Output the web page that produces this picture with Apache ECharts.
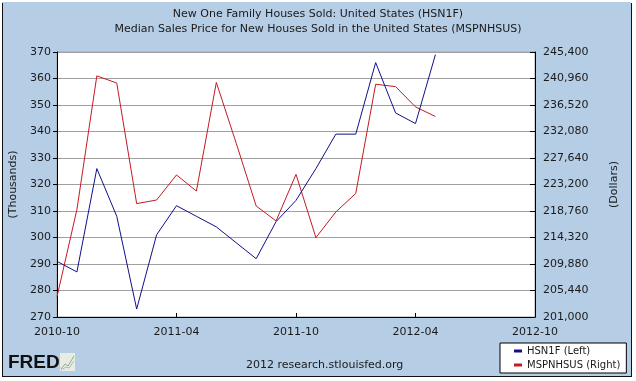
<!DOCTYPE html>
<html>
<head>
<meta charset="utf-8">
<script src="https://cdn.jsdelivr.net/npm/echarts@6/dist/echarts.min.js"></script>
<style>
html,body{margin:0;padding:0;background:#ffffff;}
#c{width:636px;height:381px;}
</style>
</head>
<body>
<div id="c"></div>
<script>
var months = ['2010-10','2010-11','2010-12','2011-01','2011-02','2011-03','2011-04','2011-05','2011-06','2011-07','2011-08','2011-09','2011-10','2011-11','2011-12','2012-01','2012-02','2012-03','2012-04','2012-05','2012-06','2012-07','2012-08','2012-09','2012-10'];
var hsn1f = [291, 287, 326, 308, 273, 301, 312, 308, 304, 298, 292, 306, 314, 326, 339, 339, 366, 347, 343, 369];
var mspnhsus = [204400, 219000, 241400, 240200, 220000, 220600, 224800, 222100, 240300, 230100, 219600, 217100, 224900, 214300, 218600, 221700, 240000, 239600, 236200, 234600];
var leftTicks = {min: 270, max: 370, interval: 10};
var rightTicks = {min: 201000, max: 245400, interval: 4440};

var chart = echarts.init(document.getElementById('c'), null, {renderer: 'canvas'});
var font = 'DejaVu Sans, Verdana, sans-serif';
var txt = '#1a1a1a';

function commas(v){ return String(Math.round(v)).replace(/\B(?=(\d{3})+(?!\d))/g, ','); }

chart.setOption({
  backgroundColor: '#ffffff',
  animation: false,
  title: {
    text: 'New One Family Houses Sold: United States (HSN1F)\nMedian Sales Price for New Houses Sold in the United States (MSPNHSUS)',
    left: 'center', top: 2,
    textStyle: {fontFamily: font, fontSize: 11, fontWeight: 'normal', color: txt, lineHeight: 15}
  },
  legend: {
    orient: 'vertical',
    left: 500, top: 343, width: 110,
    padding: [3, 6, 3, 14],
    itemGap: 4,
    itemWidth: 8, itemHeight: 3,
    icon: 'rect',
    backgroundColor: '#ffffff',
    borderColor: '#000000', borderWidth: 1,
    textStyle: {fontFamily: font, fontSize: 10, color: txt},
    data: [{name: 'HSN1F (Left)'}, {name: 'MSPNHSUS (Right)'}]
  },
  grid: {left: 57, right: 101, top: 52, bottom: 64, show: true, backgroundColor: '#ffffff', borderColor: '#a0a0a0', borderWidth: 1},
  xAxis: {
    type: 'category',
    data: months,
    boundaryGap: false,
    axisLine: {lineStyle: {color: '#000000', width: 1}},
    axisTick: {inside: true, length: 4, interval: 5, lineStyle: {color: '#000000'}},
    axisLabel: {interval: 5, margin: 10, fontFamily: font, fontSize: 11, color: txt},
    splitLine: {show: false}
  },
  yAxis: [{
    type: 'value',
    position: 'left',
    min: leftTicks.min, max: leftTicks.max, interval: leftTicks.interval,
    name: '(Thousands)', nameLocation: 'middle', nameRotate: 90, nameGap: 33,
    nameTextStyle: {fontFamily: font, fontSize: 11, color: txt},
    axisLine: {show: true, lineStyle: {color: '#000000'}},
    axisTick: {show: true, inside: false, length: 4, lineStyle: {color: '#000000'}},
    axisLabel: {margin: 6, fontFamily: font, fontSize: 11, color: txt},
    splitLine: {show: true, lineStyle: {color: '#a0a0a0', width: 1}}
  }, {
    type: 'value',
    position: 'right',
    min: rightTicks.min, max: rightTicks.max, interval: rightTicks.interval,
    name: '(Dollars)', nameLocation: 'middle', nameRotate: 90, nameGap: 74,
    nameTextStyle: {fontFamily: font, fontSize: 11, color: txt},
    axisLine: {show: true, lineStyle: {color: '#000000'}},
    axisTick: {show: true, inside: true, length: 5, lineStyle: {color: '#000000'}},
    axisLabel: {margin: 8, fontFamily: font, fontSize: 11, color: txt, formatter: commas},
    splitLine: {show: false}
  }],
  series: [{
    name: 'HSN1F (Left)', type: 'line', yAxisIndex: 0,
    data: hsn1f, showSymbol: false, symbol: 'none',
    lineStyle: {color: '#10108a', width: 1}, itemStyle: {color: '#10108a'}, z: 3
  }, {
    name: 'MSPNHSUS (Right)', type: 'line', yAxisIndex: 1,
    data: mspnhsus, showSymbol: false, symbol: 'none',
    lineStyle: {color: '#c41a22', width: 1}, itemStyle: {color: '#c41a22'}, z: 2
  }],
  graphic: [
    {type: 'rect', shape: {x: 2, y: 2, width: 629, height: 374}, style: {fill: '#b5cde5', stroke: null}, z: -10, silent: true},
    {type: 'line', shape: {x1: 2.5, y1: 3, x2: 2.5, y2: 376.5}, style: {stroke: '#111111', lineWidth: 1}, z: -9},
    {type: 'line', shape: {x1: 631.5, y1: 3, x2: 631.5, y2: 376.5}, style: {stroke: '#111111', lineWidth: 1}, z: -9},
    {type: 'line', shape: {x1: 2, y1: 376.5, x2: 632, y2: 376.5}, style: {stroke: '#111111', lineWidth: 1}, z: -9},
    {type: 'text', left: 246, top: 360, style: {text: '2012 research.stlouisfed.org', font: '11px ' + font, fill: txt}},
    {type: 'text', left: 8, top: 353, style: {text: 'FRED', font: 'bold 19px "Liberation Sans", Arial, sans-serif', fill: '#111111'}},
    {type: 'rect', shape: {x: 60, y: 353, width: 15, height: 18}, style: {fill: '#e8ece4', stroke: null}},
    {type: 'polyline', shape: {points: [[61, 369], [65, 364], [68, 366], [74, 356]]}, style: {stroke: '#8fb07a', lineWidth: 1, fill: null}},
    {type: 'polyline', shape: {points: [[61, 370], [66, 367], [69, 368], [74, 361]]}, style: {stroke: '#a9b8cf', lineWidth: 1, fill: null}}
  ]
});
</script>
</body>
</html>
